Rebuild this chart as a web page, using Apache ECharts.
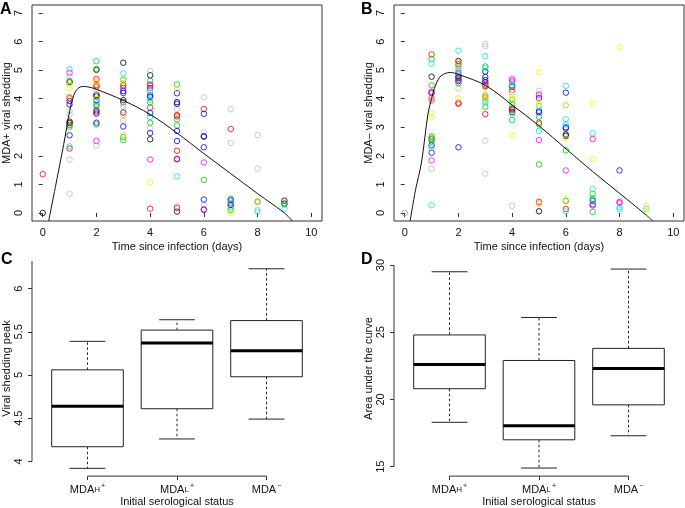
<!DOCTYPE html>
<html>
<head>
<meta charset="utf-8">
<script src="https://cdn.jsdelivr.net/npm/echarts@6.0.0/dist/echarts.min.js"></script>
<style>
html,body{margin:0;padding:0;background:#fff;}
#chart{width:685px;height:508px;}
</style>
</head>
<body>
<div id="chart"></div>
<script>
// ---------- data ----------
const dayTicks = [0, 2, 4, 6, 8, 10];
const sheddingTicks = [0, 1, 2, 3, 4, 5, 6, 7];
const peakTicks = [4, 4.5, 5, 5.5, 6];
const aucTicks = [15, 20, 25, 30];

// Panel A (MDA+) points: [day, shedding]
const aBlack = [[0,0],[1,4.58],[1,3.2],[1,3.15],[2,5.01],[2,4.14],[2,4.08],[2,3.48],[3,5.26],[3,3.95],[3,3.88],[4,4.82],[4,4.37],[4,2.58],[5,3.88],[5,1.88],[5,0.05],[6,2.69],[6,0.11],[9,0.43],[9,0.33]];
const aRed = [[0,1.36],[1,4.02],[1,3.08],[1,2.26],[2,4.69],[2,4.47],[2,4.42],[2,3.6],[3,4.47],[3,4.38],[4,4.5],[4,3.69],[4,0.15],[5,3.43],[5,3.38],[5,2.18],[5,0.18],[6,3.64],[7,2.94],[7,0.33]];
const aGreen = [[1,4.62],[1,3.02],[2,5.31],[2,5.04],[2,3.8],[2,3.74],[2,3.1],[3,4.67],[3,2.66],[3,2.55],[4,4.63],[4,3.87],[4,3.16],[5,4.5],[5,3.28],[5,3.06],[6,1.16],[7,0.5],[7,0.1],[8,0.4],[9,0.3]];
const aBlue = [[1,3.92],[1,3.8],[1,2.72],[2,3.95],[2,3.55],[2,3.16],[3,4.27],[3,4.2],[3,3.52],[3,3.03],[4,4.11],[4,4.06],[4,3.5],[4,2.8],[5,4.19],[5,3.82],[5,2.87],[5,2.52],[6,3.47],[6,2.67],[6,2.3],[6,0.47],[7,0.45],[7,0.28]];
const aCyan = [[1,5.03],[1,2.33],[2,3.88],[3,4.88],[4,4.27],[4,3.97],[4,3.36],[5,1.28],[7,0.4],[7,0.16],[8,0.05],[9,0.15]];
const aMagenta = [[1,4.91],[2,2.52],[4,4.46],[4,1.87],[5,1.9],[6,1.77],[6,0.13]];
const aYellow = [[1,4.48],[1,4.37],[2,4.56],[2,4.0],[3,4.62],[3,2.74],[4,1.07],[5,4.33],[7,0.02]];
const aGray = [[1,4.78],[1,3.58],[1,3.45],[1,1.87],[1,0.67],[2,4.3],[2,2.36],[3,4.55],[3,3.8],[3,3.72],[3,3.22],[4,4.97],[4,4.2],[4,2.96],[5,3.65],[5,0.24],[6,4.05],[6,2.83],[6,0.3],[7,3.63],[7,2.45],[7,0.22],[8,2.73],[8,1.55],[8,0.11]];
const aOrange = [[1,4.07],[2,4.62],[3,3.44],[8,0.38]];
const aCurve = [[0.22,-0.28],[0.5,1.05],[0.78,2.4],[1.0,3.55],[1.15,4.1],[1.3,4.35],[1.52,4.43],[1.75,4.4],[2,4.33],[3,3.94],[4,3.45],[5,2.8],[6,2.08],[7,1.38],[8,0.68],[9,0.0],[9.3,-0.28]];

// Panel B (MDA-) points
const bBlack = [[1,4.77],[1,4.2],[2,5.32],[2,4.77],[2,4.62],[3,4.95],[3,4.57],[3,4.43],[4,4.42],[4,3.64],[4,3.53],[5,0.06],[6,2.75],[6,2.7],[7,0.43]];
const bRed = [[1,5.55],[1,2.58],[2,5.2],[2,3.86],[2,3.82],[3,4.47],[3,3.46],[4,3.68],[4,3.6],[5,3.16],[5,0.39],[6,0.14]];
const bGreen = [[1,5.39],[1,4.47],[1,2.69],[1,2.62],[1,2.5],[2,4.85],[2,4.54],[3,5.13],[3,4.07],[3,3.72],[4,4.46],[4,3.96],[4,3.25],[5,3.37],[5,3.1],[5,1.7],[6,2.19],[6,0.42],[7,0.67],[7,0.5],[7,0.04]];
const bBlue = [[1,2.37],[1,2.11],[2,4.72],[2,2.3],[3,4.76],[3,4.65],[5,4.02],[5,3.57],[5,3.52],[6,4.21],[6,3.0],[6,2.96],[7,0.3],[8,1.49]];
const bCyan = [[1,5.22],[1,2.28],[1,0.27],[2,5.68],[2,5.12],[2,4.98],[3,5.49],[3,5.08],[3,3.93],[3,3.86],[4,4.57],[4,3.8],[4,3.45],[5,3.74],[5,2.87],[6,4.45],[6,3.28],[6,3.1],[6,0.06],[7,2.79],[7,0.84],[7,0.45],[8,0.2],[8,0.13],[9,0.15]];
const bMagenta = [[1,4.25],[1,4.03],[1,3.94],[1,1.84],[2,4.9],[2,4.66],[3,4.52],[4,4.69],[4,4.62],[4,4.31],[5,4.15],[5,2.55],[6,1.49],[7,2.59],[7,0.26],[8,0.39],[8,0.36]];
const bYellow = [[1,3.98],[1,3.5],[1,3.35],[2,4.01],[3,4.4],[3,3.98],[4,4.12],[4,4.0],[4,2.72],[5,4.93],[5,3.87],[5,3.8],[6,2.63],[6,0.48],[7,3.83],[7,1.89],[8,5.8],[9,0.25],[9,0.05]];
const bGray = [[1,1.54],[2,5.05],[2,4.36],[3,5.92],[3,5.83],[3,2.53],[3,1.38],[4,4.23],[4,0.25],[5,4.28],[5,4.1]];
const bOrange = [[2,5.26],[3,4.13],[3,4.02],[4,3.85],[5,0.33],[6,3.77]];
const bOlive = [[0,0]];
const bCurve = [[0.2,-0.28],[0.4,0.8],[0.62,1.75],[0.87,3.5],[1.0,4.0],[1.1,4.35],[1.3,4.75],[1.5,4.88],[1.7,4.92],[2,4.85],[3,4.47],[4,3.78],[5,3.05],[6,2.25],[7,1.45],[8,0.69],[9,-0.08],[9.24,-0.28]];

// Panels C & D: boxplot statistics per serological group
const groupBase = ['MDA', 'MDA', 'MDA'];
const groupSub = ['H', 'L', ''];
const groupSup = ['+', '+', '\u2212'];
const groupPos = [1, 2, 3];
const cLow = [3.92, 4.26, 4.49];
const cQ1 = [4.17, 4.61, 4.98];
const cMed = [4.64, 5.37, 5.28];
const cQ3 = [5.06, 5.52, 5.63];
const cHigh = [5.39, 5.64, 6.23];
const dLow = [18.3, 14.9, 17.3];
const dQ1 = [20.8, 17.0, 19.6];
const dMed = [22.6, 18.05, 22.3];
const dQ3 = [24.8, 22.9, 23.8];
const dHigh = [29.5, 26.1, 29.7];

// ---------- chart ----------
const FONT = '"Liberation Sans", Arial, Helvetica, sans-serif';
const TXT = '#111';
const chart = echarts.init(document.getElementById('chart'), null, {renderer: 'canvas'});

const palette = {black:'#000000', red:'#FF0000', green:'#00CD00', blue:'#0000FF', cyan:'#00E5EE', magenta:'#FF00FF', yellow:'#F0F000', gray:'#BEBEBE', orange:'#FFA500', olive:'#9AA07A'};

function scatter(points, color, gi) {
  return {
    type: 'scatter', xAxisIndex: gi, yAxisIndex: gi, data: points,
    symbol: 'circle', symbolSize: 5.5, silent: true, z: 3,
    itemStyle: {color: 'rgba(0,0,0,0)', borderColor: color, borderWidth: 1}
  };
}
function curve(points, gi) {
  return {
    type: 'line', xAxisIndex: gi, yAxisIndex: gi, data: points, symbol: 'none',
    smooth: 0.35, silent: true, z: 4, clip: true,
    lineStyle: {color: '#111', width: 1}
  };
}
function boxData(lo, q1, med, q3, hi) {
  return groupPos.map((p, i) => [p, lo[i], q1[i], med[i], q3[i], hi[i]]);
}
function renderBox(params, api) {
  const x = api.value(0), lo = api.value(1), q1 = api.value(2), med = api.value(3), q3 = api.value(4), hi = api.value(5);
  const half = 0.4, cap = 0.2;
  const bl = api.coord([x - half, q1]), tr = api.coord([x + half, q3]);
  const line = (a, b, extra) => ({type: 'line', shape: {x1: a[0], y1: a[1], x2: b[0], y2: b[1]}, style: Object.assign({stroke: '#222', lineWidth: 1}, extra || {})});
  return {
    type: 'group',
    children: [
      line(api.coord([x, q3]), api.coord([x, hi]), {lineDash: [2.5, 2.5]}),
      line(api.coord([x, q1]), api.coord([x, lo]), {lineDash: [2.5, 2.5]}),
      line(api.coord([x - cap, hi]), api.coord([x + cap, hi])),
      line(api.coord([x - cap, lo]), api.coord([x + cap, lo])),
      {type: 'rect', shape: {x: bl[0], y: tr[1], width: tr[0] - bl[0], height: bl[1] - tr[1]}, style: {fill: '#fff', stroke: '#222', lineWidth: 1}},
      line(api.coord([x - half, med]), api.coord([x + half, med]), {stroke: '#000', lineWidth: 3})
    ]
  };
}
function boxSeries(data, gi) {
  return {
    type: 'custom', xAxisIndex: gi, yAxisIndex: gi, data: data, renderItem: renderBox,
    encode: {x: 0, y: [1, 2, 3, 4, 5]}, silent: true, clip: false, z: 3
  };
}
function frameLine(points, gi) {
  return {type: 'line', xAxisIndex: gi, yAxisIndex: gi, data: points, symbol: 'none', silent: true, clip: false,
    lineStyle: {color: '#333', width: 1}, z: 2};
}

const tickStyle = {show: true, length: 4, lineStyle: {color: '#333', width: 1}};
const labelStyle = {fontFamily: FONT, fontSize: 11, color: TXT};
const nameStyle = {fontFamily: FONT, fontSize: 11, color: TXT};

function xDays(gi) {
  return {
    type: 'value', gridIndex: gi, min: -0.4, max: 10.4,
    axisLine: {show: false}, splitLine: {show: false},
    axisTick: Object.assign({customValues: dayTicks}, tickStyle),
    axisLabel: Object.assign({customValues: dayTicks, margin: 6}, labelStyle),
    name: 'Time since infection (days)', nameLocation: 'middle', nameGap: 20, nameTextStyle: nameStyle
  };
}
function yShed(gi, name) {
  return {
    type: 'value', gridIndex: gi, min: -0.28, max: 7.28,
    axisLine: {show: false}, splitLine: {show: false},
    axisTick: Object.assign({customValues: sheddingTicks}, tickStyle),
    axisLabel: Object.assign({customValues: sheddingTicks, rotate: 90, margin: 8}, labelStyle),
    name: name, nameLocation: 'middle', nameGap: 19, nameTextStyle: nameStyle
  };
}
function xGroups(gi) {
  return {
    type: 'value', gridIndex: gi, min: 0.38, max: 3.62,
    axisLine: {show: false}, splitLine: {show: false},
    axisTick: Object.assign({customValues: groupPos}, tickStyle),
    axisLabel: Object.assign({
      customValues: groupPos, margin: 6,
      formatter: v => {
        const i = Math.round(v) - 1;
        return '{a|' + groupBase[i] + '}' + (groupSub[i] ? '{s|' + groupSub[i] + '}' : '') + '{p|' + groupSup[i] + '}';
      },
      rich: {
        a: {fontFamily: FONT, fontSize: 11, color: TXT, verticalAlign: 'bottom', lineHeight: 13},
        s: {fontFamily: FONT, fontSize: 8, color: TXT, verticalAlign: 'bottom', lineHeight: 13, padding: [0, 0, 1, 0]},
        p: {fontFamily: FONT, fontSize: 7, color: TXT, verticalAlign: 'top', lineHeight: 13, padding: [0, 0, 4, 1]}
      }
    }, labelStyle),
    name: 'Initial serological status', nameLocation: 'middle', nameGap: 19, nameTextStyle: nameStyle
  };
}
function yBox(gi, min, max, ticks, name) {
  return {
    type: 'value', gridIndex: gi, min: min, max: max,
    axisLine: {show: false}, splitLine: {show: false},
    axisTick: Object.assign({customValues: ticks}, tickStyle),
    axisLabel: Object.assign({customValues: ticks, rotate: 90, margin: 8}, labelStyle),
    name: name, nameLocation: 'middle', nameGap: 19, nameTextStyle: nameStyle
  };
}

const C_MIN = 3.83, C_MAX = 6.32, D_MIN = 14.3, D_MAX = 30.3;
const letter = (t, l, tp) => ({text: t, left: l, top: tp, padding: 0, textStyle: {fontFamily: FONT, fontSize: 16, fontWeight: 'bold', color: '#000'}});

const series = [];
[[aBlack,'black'],[aGray,'gray'],[aRed,'red'],[aGreen,'green'],[aBlue,'blue'],[aCyan,'cyan'],[aMagenta,'magenta'],[aYellow,'yellow'],[aOrange,'orange']]
  .forEach(([pts, c]) => series.push(scatter(pts, palette[c], 0)));
series.push(curve(aCurve, 0));
[[bOlive,'olive'],[bGray,'gray'],[bBlack,'black'],[bRed,'red'],[bGreen,'green'],[bBlue,'blue'],[bCyan,'cyan'],[bMagenta,'magenta'],[bYellow,'yellow'],[bOrange,'orange']]
  .forEach(([pts, c]) => series.push(scatter(pts, palette[c], 1)));
series.push(curve(bCurve, 1));
series.push(frameLine([[groupPos[0], C_MIN], [groupPos[2], C_MIN]], 2));
series.push(frameLine([[0.38, peakTicks[0]], [0.38, C_MAX]], 2));
series.push(boxSeries(boxData(cLow, cQ1, cMed, cQ3, cHigh), 2));
series.push(frameLine([[groupPos[0], D_MIN], [groupPos[2], D_MIN]], 3));
series.push(frameLine([[0.38, aucTicks[0]], [0.38, aucTicks[aucTicks.length - 1]]], 3));
series.push(boxSeries(boxData(dLow, dQ1, dMed, dQ3, dHigh), 3));

chart.setOption({
  animation: false,
  backgroundColor: '#fff',
  title: [letter('A', 0, 2), letter('B', 361, 2), letter('C', 1, 252), letter('D', 361, 252)],
  grid: [
    {left: 32, top: 5, width: 290, height: 216, show: true, borderColor: '#333', borderWidth: 1, backgroundColor: 'transparent'},
    {left: 394, top: 5, width: 290, height: 216, show: true, borderColor: '#333', borderWidth: 1, backgroundColor: 'transparent'},
    {left: 32, top: 261, width: 290, height: 216},
    {left: 394, top: 261, width: 290, height: 216}
  ],
  xAxis: [xDays(0), xDays(1), xGroups(2), xGroups(3)],
  yAxis: [
    yShed(0, 'MDA+ viral shedding'),
    yShed(1, 'MDA\u2013 viral shedding'),
    yBox(2, C_MIN, C_MAX, peakTicks, 'Viral shedding peak'),
    yBox(3, D_MIN, D_MAX, aucTicks, 'Area under the curve')
  ],
  series: series
});
</script>
</body>
</html>
